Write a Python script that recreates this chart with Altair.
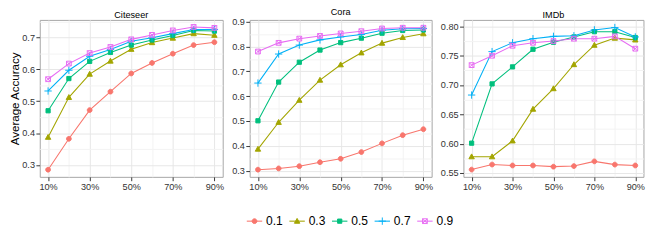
import altair as alt
import pandas as pd

# ---- data -------------------------------------------------------------
fractions = [10, 20, 30, 40, 50, 60, 70, 80, 90]
series = ["0.1", "0.3", "0.5", "0.7", "0.9"]

citeseer_01 = [0.285, 0.382, 0.472, 0.530, 0.587, 0.620, 0.649, 0.676, 0.685]
citeseer_03 = [0.387, 0.512, 0.585, 0.626, 0.663, 0.684, 0.698, 0.712, 0.707]
citeseer_05 = [0.470, 0.571, 0.625, 0.653, 0.676, 0.692, 0.706, 0.722, 0.720]
citeseer_07 = [0.532, 0.597, 0.641, 0.662, 0.688, 0.699, 0.712, 0.725, 0.725]
citeseer_09 = [0.569, 0.618, 0.651, 0.670, 0.694, 0.708, 0.722, 0.733, 0.730]

cora_01 = [0.304, 0.309, 0.318, 0.334, 0.348, 0.375, 0.410, 0.443, 0.467]
cora_03 = [0.387, 0.495, 0.584, 0.665, 0.727, 0.775, 0.814, 0.837, 0.852]
cora_05 = [0.501, 0.657, 0.737, 0.786, 0.816, 0.834, 0.854, 0.865, 0.867]
cora_07 = [0.653, 0.770, 0.806, 0.827, 0.839, 0.849, 0.866, 0.872, 0.873]
cora_09 = [0.780, 0.815, 0.832, 0.843, 0.853, 0.862, 0.873, 0.876, 0.876]

imdb_01 = [0.556, 0.5646, 0.563, 0.563, 0.561, 0.562, 0.570, 0.5645, 0.563]
imdb_03 = [0.578, 0.578, 0.605, 0.659, 0.694, 0.735, 0.768, 0.780, 0.777]
imdb_05 = [0.601, 0.702, 0.731, 0.761, 0.773, 0.782, 0.791, 0.791, 0.781]
imdb_07 = [0.683, 0.757, 0.772, 0.779, 0.783, 0.784, 0.794, 0.798, 0.782]
imdb_09 = [0.734, 0.750, 0.767, 0.772, 0.775, 0.779, 0.779, 0.783, 0.762]

x_major = [10, 30, 50, 70, 90]
x_all = [10, 20, 30, 40, 50, 60, 70, 80, 90]

citeseer_major = [0.3, 0.4, 0.5, 0.6, 0.7]
citeseer_minor = [0.35, 0.45, 0.55, 0.65, 0.75]
cora_major = [0.3, 0.4, 0.5, 0.6, 0.7, 0.8, 0.9]
cora_minor = [0.35, 0.45, 0.55, 0.65, 0.75, 0.85]
imdb_major = [0.55, 0.6, 0.65, 0.7, 0.75, 0.8]
imdb_minor = [0.575, 0.625, 0.675, 0.725, 0.775]

colors = ["#F8766D", "#A3A500", "#00BF7D", "#00B0F6", "#E76BF3"]
fills = ["#F8766D", "#A3A500", "#00BF7D", "transparent", "transparent"]
shapes = [
    "M0.62,0A0.62,0.62,0,1,1,-0.62,0A0.62,0.62,0,1,1,0.62,0Z",
    "M0,-0.72L0.7,0.55L-0.7,0.55Z",
    "M-0.55,-0.55H0.55V0.55H-0.55Z",
    "M-0.95,0H0.95M0,-0.95V0.95",
    "M-0.62,-0.62H0.62V0.62H-0.62ZM-0.62,-0.62L0.62,0.62M-0.62,0.62L0.62,-0.62",
]


def make_df(cols):
    rows = []
    for s, vals in zip(series, cols):
        for f, v in zip(fractions, vals):
            rows.append({"frac": f, "acc": v, "series": s})
    return pd.DataFrame(rows)


df_citeseer = make_df([citeseer_01, citeseer_03, citeseer_05, citeseer_07, citeseer_09])
df_cora = make_df([cora_01, cora_03, cora_05, cora_07, cora_09])
df_imdb = make_df([imdb_01, imdb_03, imdb_05, imdb_07, imdb_09])
legend_df = pd.DataFrame({"series": series})

FONT = "Liberation Sans"
TICK = "#333333"
GRID_MAJOR = "#E6E6E6"
GRID_MINOR = "#F3F3F3"

stroke_enc = alt.Stroke("series:N", scale=alt.Scale(domain=series, range=colors), legend=None)
fill_enc = alt.Fill("series:N", scale=alt.Scale(domain=series, range=fills), legend=None)
shape_enc = alt.Shape("series:N", scale=alt.Scale(domain=series, range=shapes), legend=None)

height = 163


def minor_test(majors):
    return f"indexof({majors}, datum.value) < 0"


def panel(df, title, ydomain, majors, minors, yfmt, width, ytitle=None):
    x_axis = alt.Axis(
        values=x_all,
        labelExpr=f"{minor_test(x_major)} ? '' : datum.value + '%'",
        tickColor={"condition": {"test": minor_test(x_major), "value": "transparent"}, "value": TICK},
        gridColor={"condition": {"test": minor_test(x_major), "value": GRID_MINOR}, "value": GRID_MAJOR},
        title=None,
    )
    y_axis = alt.Axis(
        values=sorted(majors + minors),
        labelExpr=f"{minor_test(majors)} ? '' : format(datum.value, '{yfmt}')",
        tickColor={"condition": {"test": minor_test(majors), "value": "transparent"}, "value": TICK},
        gridColor={"condition": {"test": minor_test(majors), "value": GRID_MINOR}, "value": GRID_MAJOR},
        title=ytitle if ytitle else None,
    )

    x = alt.X("frac:Q", scale=alt.Scale(domain=[6, 94], nice=False, zero=False), axis=x_axis)
    y = alt.Y("acc:Q", scale=alt.Scale(domain=ydomain, nice=False, zero=False), axis=y_axis)

    base = alt.Chart(df)
    lines = base.mark_line(strokeWidth=1.1).encode(x=x, y=y, stroke=stroke_enc, detail="series:N")
    points = base.mark_point(strokeWidth=1, size=64, opacity=1).encode(
        x=x, y=y, stroke=stroke_enc, fill=fill_enc, shape=shape_enc
    )
    return alt.layer(lines, points).properties(
        width=width,
        height=height,
        title=alt.TitleParams(title, fontSize=9.5, font=FONT, fontWeight="normal", color="#000000", offset=1, anchor="middle"),
    )


c1 = panel(df_citeseer, "Citeseer", [0.2626, 0.755], citeseer_major, citeseer_minor, ".1f", 190, ytitle="Average Accuracy")
c2 = panel(df_cora, "Cora", [0.275, 0.9075], cora_major, cora_minor, ".1f", 189)
c3 = panel(df_imdb, "IMDb", [0.5436, 0.811], imdb_major, imdb_minor, ".2f", 187)

row = alt.hconcat(c1, c2, c3, spacing=6)

# manual legend drawn through a point scale
LEG_W = 640
LEG_H = 20
lx = alt.X("series:N", scale=alt.Scale(type="point", domain=series, range=[223, 400], padding=0), axis=None)
ly = alt.value(LEG_H / 2)
lbase = alt.Chart(legend_df)
lrule = lbase.mark_rule(xOffset=-8, x2Offset=8, strokeWidth=1.1).encode(
    x=lx, x2=alt.X2("series:N"), y=ly, stroke=stroke_enc
)
lpts = lbase.mark_point(strokeWidth=1, size=64, opacity=1).encode(
    x=lx, y=ly, stroke=stroke_enc, fill=fill_enc, shape=shape_enc
)
ltext = lbase.mark_text(align="left", baseline="middle", dx=12, fontSize=12.5, font=FONT, color="#000000").encode(
    x=lx, y=ly, text="series:N"
)
legend = alt.layer(lrule, lpts, ltext).properties(
    width=LEG_W, height=LEG_H, view=alt.ViewBackground(strokeOpacity=0)
)

chart = alt.vconcat(row, legend, spacing=20).properties(
    padding={"left": 0, "top": -7, "right": 0, "bottom": 0}
)

chart = chart.configure(font=FONT).configure_view(
    stroke="#A3A3A3", strokeWidth=1
).configure_axis(
    domain=False,
    tickSize=4,
    tickWidth=1,
    labelPadding=1.5,
    labelFontSize=9.5,
    labelColor="#333333",
    labelFont=FONT,
    titleFont=FONT,
    titleFontSize=12,
    titleFontWeight="normal",
    titleColor="#000000",
    titlePadding=0,
    gridWidth=1,
)

chart.save("out.html", embed_options={"renderer": "svg", "actions": False})
